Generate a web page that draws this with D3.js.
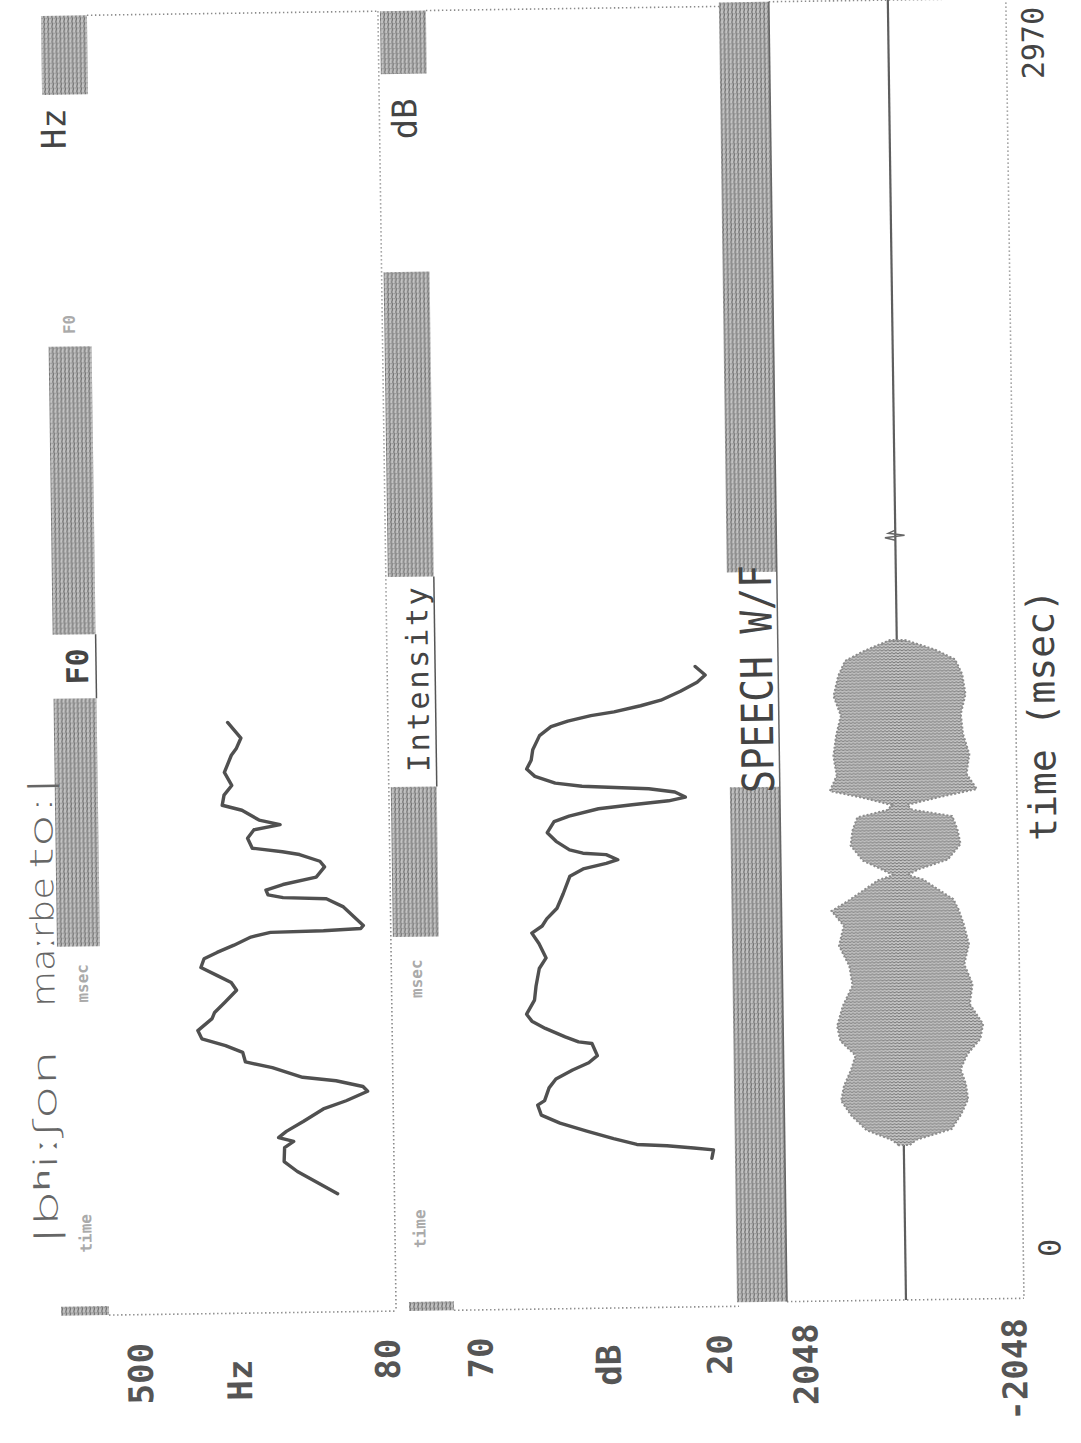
<!DOCTYPE html>
<html>
<head>
<meta charset="utf-8">
<script src="https://cdn.jsdelivr.net/npm/d3@7"></script>
<style>
  html, body { margin: 0; padding: 0; background: #fff; }
  svg { display: block; background: #fff; }
</style>
</head>
<body>
<svg id="chart" width="1081" height="1443"></svg>
<script>
// time axis (msec) runs bottom -> top on the printout
const timeTicks = [0, 2970];

// F0 contour (msec, Hz)
const f0Time = [270, 292, 322, 345, 377, 391, 400, 414, 436, 464, 482, 503, 514, 528, 537, 560, 574, 596, 612, 628,
                647, 674, 688, 711, 738, 756, 772, 791, 811, 825, 841, 859, 869, 871, 875, 882, 925, 944, 948, 955,
                966, 978, 994, 1017, 1030, 1046, 1053, 1062, 1085, 1104, 1115, 1126, 1149, 1161, 1184, 1206, 1236, 1275, 1291, 1314, 1350];
const f0Hz   = [153, 179, 214, 234, 233, 219, 242, 230, 204, 173, 138, 105, 112, 153, 204, 250, 291, 295, 321, 357,
                363, 341, 337, 321, 303, 311, 332, 357, 352, 332, 306, 280, 250, 169, 112, 108, 138, 164, 230, 253,
                256, 230, 179, 166, 173, 204, 230, 276, 283, 273, 233, 265, 291, 321, 318, 306, 317, 306, 298, 291, 311];
const f0Ticks = [500, 80];

// intensity contour (msec, dB)
const intTime = [339, 358, 363, 369, 373, 387, 405, 424, 443, 466, 476, 505, 525, 545, 561, 577, 605, 609, 621, 641,
                 658, 674, 706, 738, 778, 802, 835, 859, 875, 891, 915, 948, 988, 1004, 1016, 1024, 1036, 1040, 1048, 1068,
                 1088, 1113, 1125, 1141, 1149, 1157, 1165, 1177, 1185, 1189, 1193, 1201, 1217, 1234, 1254, 1278, 1310, 1330, 1342, 1354,
                 1362, 1375, 1387, 1407, 1427, 1443, 1463];
const intDb   = [22.6, 22.3, 25.7, 30.3, 35.5, 39.5, 44.1, 48.7, 51.9, 52.5, 51.3, 50.5, 49.3, 46.4, 43.6, 42.1, 43.0, 45.3, 47.6, 51.0,
                 53.3, 54.2, 52.8, 52.5, 51.9, 50.7, 51.9, 53.1, 51.3, 50.5, 48.7, 47.6, 46.4, 44.1, 40.1, 38.1, 40.1, 44.1, 46.4, 48.7,
                 50.2, 49.0, 46.4, 41.3, 35.5, 29.2, 26.3, 28.1, 32.6, 38.4, 44.1, 48.7, 52.2, 53.6, 52.8, 52.5, 51.3, 49.3, 46.4, 42.4,
                 38.4, 33.8, 30.3, 26.9, 24.0, 22.6, 24.3];
const dbTicks = [70, 20];

// speech waveform envelope (msec, sample units)
const wfTime  = [363, 375, 398, 432, 466, 500, 535, 569, 603, 637, 683, 729, 774, 820, 866, 900, 923, 946, 969, 980,
                 992, 1014, 1049, 1083, 1113, 1129, 1140, 1158, 1174, 1209, 1254, 1300, 1346, 1391, 1437, 1471, 1494, 1517];
const wfUpper = [86, 207, 639, 899, 1072, 1020, 899, 812, 1072, 1123, 1020, 847, 899, 1072, 985, 1193, 899, 639, 380, 121,
                 294, 639, 847, 812, 726, 207, 121, 639, 1193, 1072, 1123, 1072, 985, 1106, 1020, 899, 553, 121];
const wfLower = [-104, -225, -830, -1002, -1123, -1089, -1002, -1123, -1348, -1400, -1175, -1227, -1089, -1175, -1089, -1002, -916, -657, -398, -138,
                 -311, -830, -1054, -1002, -916, -225, -138, -743, -1348, -1175, -1227, -1123, -1089, -1175, -1123, -1002, -657, -138];
const spikeTime = [1745, 1751, 1756, 1761, 1768];
const spikeAmp  = [0, 180, -160, 120, 0];
const ampTicks = [2048, -2048];

const svg = d3.select("#chart");
const defs = svg.append("defs");

// dot-matrix shading
const hatch = defs.append("pattern").attr("id", "hatch")
    .attr("patternUnits", "userSpaceOnUse").attr("width", 4).attr("height", 5);
hatch.append("rect").attr("width", 4).attr("height", 5).attr("fill", "#c2c2c2");
hatch.append("path").attr("d", "M0.6,0 Q2.2,2.5 0.6,5").attr("fill", "none")
    .attr("stroke", "#6e6e6e").attr("stroke-width", 1.2);
hatch.append("rect").attr("x", 2.6).attr("y", 1).attr("width", 1).attr("height", 1.2).attr("fill", "#808080");

const wave = defs.append("pattern").attr("id", "wave")
    .attr("patternUnits", "userSpaceOnUse").attr("width", 4).attr("height", 3);
wave.append("rect").attr("width", 4).attr("height", 3).attr("fill", "#c6c6c6");
wave.append("path").attr("d", "M0,0.5 L2,2 L4,0.5").attr("fill", "none")
    .attr("stroke", "#707070").attr("stroke-width", 1);

// the scanned sheet sits slightly skewed
const root = svg.append("g").attr("transform", "rotate(-0.8,540,660)");

const y = d3.scaleLinear().domain([0, 2970]).range([1309, 9]);
const xF0 = d3.scaleLinear().domain([80, 500]).range([378, 103]);
const xDb = d3.scaleLinear().domain([20, 70]).range([720, 430]);
const xAmp = d3.scaleLinear().domain([-2048, 2048]).range([1015.5, 778.5]);

const mono = "'DejaVu Sans Mono', 'Liberation Mono', monospace";

function vtext(x, yy, str, o = {}) {
    const t = root.append("text")
        .attr("transform", `translate(${x},${yy}) rotate(-90)`)
        .attr("text-anchor", o.anchor || "middle")
        .attr("dominant-baseline", o.baseline || "central")
        .style("font-family", o.family || mono)
        .style("font-size", (o.size || 30) + "px")
        .style("font-weight", o.weight || "normal")
        .style("fill", o.fill || "#444")
        .text(str);
    if (o.len) t.attr("textLength", o.len).attr("lengthAdjust", o.adjust || "spacing");
    return t;
}

function dotted(x1, y1, x2, y2) {
    root.append("line").attr("x1", x1).attr("y1", y1).attr("x2", x2).attr("y2", y2)
        .attr("stroke", "#8a8a8a").attr("stroke-width", 1.6).attr("stroke-dasharray", "1.4,2.6");
}

function hatchBar(x0, x1, y0, y1) {
    root.append("rect").attr("x", x0).attr("y", y0).attr("width", x1 - x0).attr("height", y1 - y0)
        .attr("fill", "url(#hatch)");
}

// ---- panel frames ----
const yTop = y(timeTicks[1]), yBottom = y(timeTicks[0]);

// F0 panel
dotted(96, yTop, 387, yTop);
dotted(387, yTop, 387, yBottom);
dotted(100, yBottom, 387, yBottom);
hatchBar(50, 96, yTop, 88);
hatchBar(53, 96, 340, 628);
hatchBar(53, 96, 692, 940);
hatchBar(52, 100, yBottom - 9, yBottom);
root.append("line").attr("x1", 96).attr("x2", 96).attr("y1", 628).attr("y2", 692)
    .attr("stroke", "#555").attr("stroke-width", 1.5);

// intensity panel
dotted(435, yTop, 730, yTop);
dotted(445, yBottom, 730, yBottom);
hatchBar(389, 435, yTop, 72);
hatchBar(389, 435, 270, 575);
hatchBar(389, 435, 785, 935);
hatchBar(400, 445, yBottom - 9, yBottom);
root.append("line").attr("x1", 435).attr("x2", 435).attr("y1", 575).attr("y2", 785)
    .attr("stroke", "#555").attr("stroke-width", 1.5);

// speech panel
hatchBar(728, 778, yTop - 4, 575);
hatchBar(728, 778, 790, yBottom - 4);
dotted(778, yTop - 4, 1015, yTop - 4);
dotted(1015, yTop - 4, 1015, yBottom - 4);
dotted(778, yBottom - 4, 1015, yBottom - 4);
root.append("line").attr("x1", 778).attr("x2", 778).attr("y1", yTop - 4).attr("y2", yBottom - 4)
    .attr("stroke", "#666").attr("stroke-width", 1.5);

// ---- data ----
const f0Data = f0Time.map((t, i) => ({ t, v: f0Hz[i] }));
const intData = intTime.map((t, i) => ({ t, v: intDb[i] }));
const wfData = wfTime.map((t, i) => ({ t, hi: wfUpper[i], lo: wfLower[i] }));
const spikeData = spikeTime.map((t, i) => ({ t, v: spikeAmp[i] }));

const curveStyle = sel => sel.attr("fill", "none").attr("stroke", "#505050")
    .attr("stroke-width", 3.4).attr("stroke-linejoin", "round").attr("stroke-linecap", "round");

root.append("path").datum(f0Data)
    .attr("d", d3.line().x(d => xF0(d.v)).y(d => y(d.t)))
    .call(curveStyle);

root.append("path").datum(intData)
    .attr("d", d3.line().x(d => xDb(d.v)).y(d => y(d.t)))
    .call(curveStyle);

// waveform: zero line, envelope, click
root.append("line")
    .attr("x1", xAmp(0)).attr("x2", xAmp(0))
    .attr("y1", yBottom - 4).attr("y2", yTop - 4)
    .attr("stroke", "#5e5e5e").attr("stroke-width", 2.2);

root.append("path").datum(wfData)
    .attr("d", d3.area().y(d => y(d.t)).x0(d => xAmp(d.lo)).x1(d => xAmp(d.hi)))
    .attr("fill", "url(#wave)").attr("stroke", "#8c8c8c").attr("stroke-width", 2)
    .attr("stroke-dasharray", "2,2");

root.append("path").datum(spikeData)
    .attr("d", d3.line().x(d => xAmp(d.v)).y(d => y(d.t)))
    .attr("fill", "none").attr("stroke", "#666").attr("stroke-width", 1.5);

// ---- header labels ----
vtext(73, 122, "Hz", { size: 34, baseline: "alphabetic" });
vtext(74, 318, "F0", { size: 16, fill: "#aaa", weight: "bold" });
vtext(88, 660, "F0", { size: 30, weight: "bold", baseline: "alphabetic" });
vtext(78, 977, "msec", { size: 16, fill: "#aaa", weight: "bold" });
vtext(78, 1227, "time", { size: 16, fill: "#aaa", weight: "bold" });

vtext(424, 117, "dB", { size: 34, baseline: "alphabetic" });
vtext(428, 678, "Intensity", { size: 30, baseline: "alphabetic", len: 185 });
vtext(412, 977, "msec", { size: 16, fill: "#aaa", weight: "bold" });
vtext(412, 1227, "time", { size: 16, fill: "#aaa", weight: "bold" });

vtext(772, 682, "SPEECH W/F", { size: 44, baseline: "alphabetic", len: 228, adjust: "spacingAndGlyphs" });

// time axis labels
vtext(1052, 50, String(timeTicks[1]), { size: 30, baseline: "alphabetic" });
vtext(1052, 1255, String(timeTicks[0]), { size: 30, baseline: "alphabetic" });
vtext(1054, 722, "time (msec)", { size: 38, baseline: "alphabetic" });

// value axis labels along the bottom
const bottomLabels = [
    [131, 1368, String(f0Ticks[0])], [230, 1376, "Hz"], [378, 1357, String(f0Ticks[1])],
    [471, 1357, String(dbTicks[0])], [599, 1366, "dB"], [710, 1357, String(dbTicks[1])],
    [796, 1368, String(ampTicks[0])], [1005, 1376, String(ampTicks[1])]
];
bottomLabels.forEach(([lx, ly, s]) => vtext(lx, ly, s, { size: 34, weight: "bold", fill: "#555" }));

// handwritten transcription
const hand = { family: "'DejaVu Sans', sans-serif", size: 32, weight: 300, fill: "#666",
               anchor: "start", baseline: "alphabetic", adjust: "spacingAndGlyphs" };
vtext(50, 1238, "|bʰiːʃon", Object.assign({ len: 195 }, hand));
vtext(50, 1000, "maːrbe", Object.assign({ len: 130 }, hand));
vtext(50, 862, "to:|", Object.assign({ len: 92 }, hand));
</script>
</body>
</html>
